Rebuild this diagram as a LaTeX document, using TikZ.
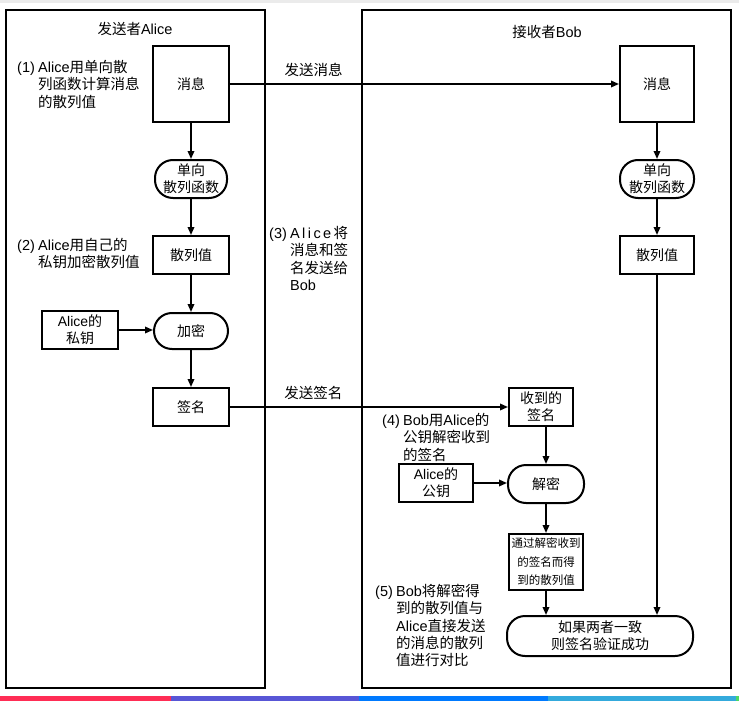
\documentclass[tikz,border=0pt]{standalone}
\usepackage{fontspec}
\setmainfont{Noto Sans CJK SC}
\newfontfamily\lat{Liberation Sans}
\usetikzlibrary{arrows.meta}
\definecolor{stripA}{HTML}{FF2D55}
\definecolor{stripB}{HTML}{5856D6}
\definecolor{stripC}{HTML}{007AFF}
\definecolor{stripD}{HTML}{34AADC}
\definecolor{stripE}{HTML}{4CD964}
\begin{document}
\begin{tikzpicture}[x=1pt,y=-1pt,
  panel/.style={draw,line width=1.5pt},
  box/.style={draw,line width=2pt,inner sep=0pt,align=center,
    font=\fontsize{14}{17}\selectfont},
  pill/.style={box,rounded corners=18pt},
  note/.style={inner sep=0pt,anchor=base west,font=\fontsize{14.5}{17}\selectfont},
  flow/.style={line width=1.7pt,-{Triangle[length=8pt,width=6.5pt]}},
  plain/.style={inner sep=0pt,font=\fontsize{14.5}{17}\selectfont}]
\useasboundingbox (0,0) rectangle (739,701);
\fill[black!8] (0,0) rectangle (739,3);
% colour strip along the bottom edge
\fill[stripA] (0,696)   rectangle (171,701);
\fill[stripB] (171,696) rectangle (359,701);
\fill[stripC] (359,696) rectangle (548,701);
\fill[stripD] (548,696) rectangle (736,701);
\fill[stripE] (736,696) rectangle (739,701);
% the two parties
\draw[panel] (6,10) rectangle (265,688);
\draw[panel] (362,10) rectangle (731,688);
\node[plain] (tA) at (135,29) {发送者{\lat Alice}};
\node[plain] (tB) at (547,32) {接收者{\lat Bob}};

% sender side
\node[box,minimum width=76pt,minimum height=76pt] (m1) at (191,84) {消息};
\node[pill,minimum width=72pt,minimum height=38pt] (h1) at (191,179) {单向\\散列函数};
\node[box,minimum width=76pt,minimum height=38pt] (v1) at (191,255) {散列值};
\node[pill,minimum width=74pt,minimum height=36pt] (e1) at (191,331) {加密};
\node[box,minimum width=76pt,minimum height=38pt] (k1) at (80,330) {{\lat Alice}的\\私钥};
\node[box,minimum width=76pt,minimum height=38pt] (s1) at (191,407) {签名};

% receiver side
\node[box,minimum width=74pt,minimum height=76pt] (m2) at (657,84) {消息};
\node[pill,minimum width=74pt,minimum height=38pt] (h2) at (657,179) {单向\\散列函数};
\node[box,minimum width=74pt,minimum height=38pt] (v2) at (657,255) {散列值};
\node[box,minimum width=64pt,minimum height=38pt] (s2) at (541,407) {收到的\\签名};
\node[pill,minimum width=76pt,minimum height=38pt] (d2) at (546,484) {解密};
\node[box,minimum width=74pt,minimum height=38pt] (k2) at (436,483) {{\lat Alice}的\\公钥};
\node[box,minimum width=74pt,minimum height=56pt,
  font=\fontsize{11.5}{18.5}\selectfont] (r2) at (546,562) {通过解密收到\\的签名而得\\到的散列值};
\node[pill,minimum width=186pt,minimum height=40pt] (f2) at (600,636) {如果两者一致\\则签名验证成功};

% step notes
\node[note] (n1) at (17,72.5) {\begin{tabular}[t]{@{}l@{ }l@{}}{\lat (1)}&{\lat Alice}用单向散\\&列函数计算消息\\&的散列值\end{tabular}};
\node[note] (n2) at (17,250.5) {\begin{tabular}[t]{@{}l@{ }l@{}}{\lat (2)}&{\lat Alice}用自己的\\&私钥加密散列值\end{tabular}};
\node[note] (n3) at (269,238.5) {\begin{tabular}[t]{@{}l@{ }l@{}}{\lat (3)}&{\lat A\,l\,i\,c\,e\,}将\\&消息和签\\&名发送给\\&{\lat Bob}\end{tabular}};
\node[note] (n4) at (382,425.5) {\begin{tabular}[t]{@{}l@{ }l@{}}{\lat (4)}&{\lat Bob}用{\lat Alice}的\\&公钥解密收到\\&的签名\end{tabular}};
\node[note] (n5) at (375,596.5) {\begin{tabular}[t]{@{}l@{ }l@{}}{\lat (5)}&{\lat Bob}将解密得\\&到的散列值与\\&{\lat Alice}直接发送\\&的消息的散列\\&值进行对比\end{tabular}};

% connectors
\draw[flow] (m1.south) -- (m1.south |- h1.north);
\draw[flow] (h1.south) -- (h1.south |- v1.north);
\draw[flow] (v1.south) -- (v1.south |- e1.north);
\draw[flow] (e1.south) -- (e1.south |- s1.north);
\draw[flow] (k1.east) -- (k1.east -| e1.west);
\draw[flow] (m1.east) -- node[plain,above=6pt,pos=0.215] (lm) {发送消息} (m1.east -| m2.west);
\draw[flow] (s1.east) -- node[plain,above=6pt,pos=0.3] (ls) {发送签名} (s1.east -| s2.west);
\draw[flow] (m2.south) -- (m2.south |- h2.north);
\draw[flow] (h2.south) -- (h2.south |- v2.north);
\draw[flow] (v2.south) -- (v2.south |- f2.north);
\draw[flow] (d2.north |- s2.south) -- (d2.north);
\draw[flow] (d2.south) -- (d2.south |- r2.north);
\draw[flow] (r2.south) -- (r2.south |- f2.north);
\draw[flow] (k2.east) -- (k2.east -| d2.west);
\end{tikzpicture}
\end{document}
